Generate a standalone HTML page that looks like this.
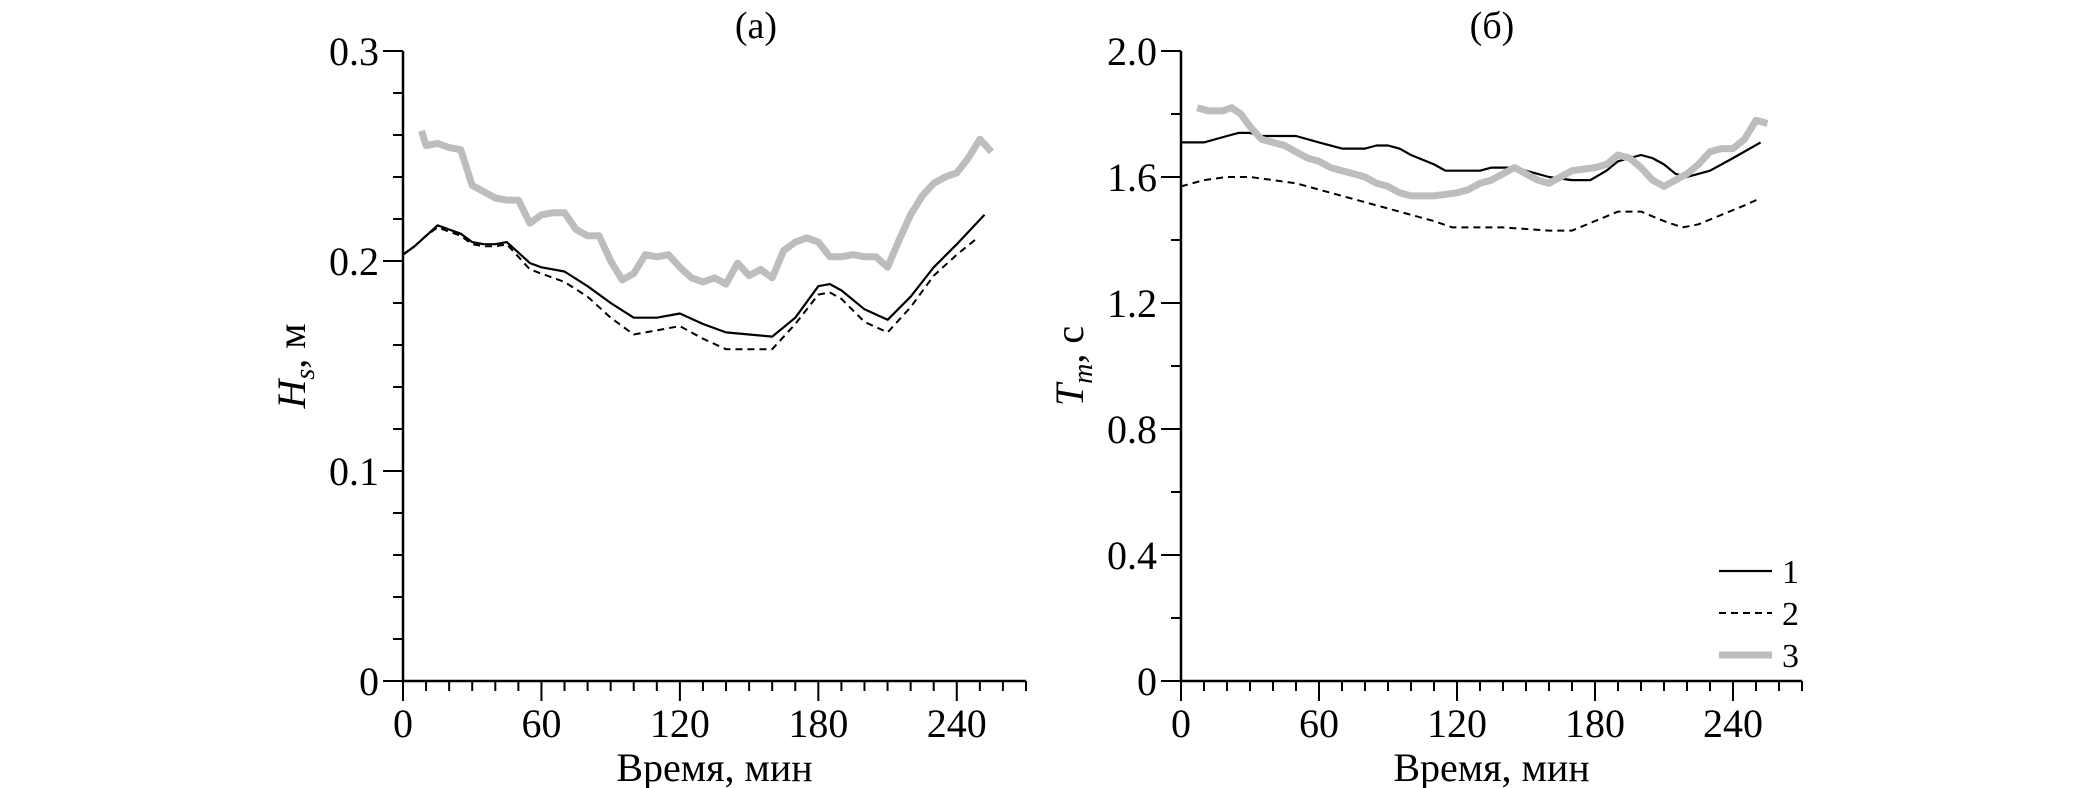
<!DOCTYPE html>
<html><head><meta charset="utf-8"><style>
html,body{margin:0;padding:0;background:#fff;}
svg{display:block;font-family:"Liberation Serif",serif;}
</style></head><body>
<svg id="chart" width="2079" height="788" viewBox="0 0 2079 788" xmlns="http://www.w3.org/2000/svg"></svg>
<script>
const hsT1=[0,5,10,15,20,25,30,35,40,45,50,55,60,70,80,90,100,110,120,130,140,150,160,170,180,185,190,200,210,220,230,240,252];
const hsV1=[0.203,0.207,0.212,0.217,0.215,0.213,0.209,0.208,0.208,0.209,0.204,0.199,0.197,0.195,0.188,0.180,0.173,0.173,0.175,0.170,0.166,0.165,0.164,0.173,0.188,0.189,0.186,0.177,0.172,0.183,0.197,0.208,0.222];
const hsT2=[0,5,10,15,20,25,30,35,40,45,50,55,60,70,80,90,100,110,120,130,140,150,160,170,180,185,190,200,210,220,230,240,249];
const hsV2=[0.203,0.207,0.212,0.216,0.214,0.212,0.208,0.207,0.207,0.208,0.202,0.196,0.194,0.190,0.183,0.173,0.165,0.167,0.169,0.163,0.158,0.158,0.158,0.170,0.184,0.185,0.182,0.171,0.166,0.178,0.193,0.203,0.211];
const hsT3=[8,10,15,20,25,30,35,40,45,50,55,60,65,70,75,80,85,90,95,100,105,110,115,120,125,130,135,140,145,150,155,160,165,170,175,180,185,190,195,200,205,210,215,220,225,230,235,240,245,250,255];
const hsV3=[0.262,0.255,0.256,0.254,0.253,0.236,0.233,0.230,0.229,0.229,0.218,0.222,0.223,0.223,0.215,0.212,0.212,0.200,0.191,0.194,0.203,0.202,0.203,0.197,0.192,0.190,0.192,0.189,0.199,0.193,0.196,0.192,0.205,0.209,0.211,0.209,0.202,0.202,0.203,0.202,0.202,0.197,0.210,0.222,0.231,0.237,0.240,0.242,0.249,0.258,0.252];
const tmT1=[0,10,20,25,30,35,50,60,70,80,85,90,95,100,110,115,130,135,145,150,160,170,178,185,190,200,205,210,215,220,230,240,252];
const tmV1=[1.71,1.71,1.73,1.74,1.74,1.73,1.73,1.71,1.69,1.69,1.70,1.70,1.69,1.67,1.64,1.62,1.62,1.63,1.63,1.62,1.60,1.59,1.59,1.62,1.65,1.67,1.66,1.64,1.61,1.60,1.62,1.66,1.71];
const tmT2=[0,10,20,30,40,50,60,70,80,90,100,110,118,140,160,170,180,190,200,210,218,225,235,245,251];
const tmV2=[1.57,1.59,1.60,1.60,1.59,1.58,1.56,1.54,1.52,1.50,1.48,1.46,1.44,1.44,1.43,1.43,1.46,1.49,1.49,1.46,1.44,1.45,1.48,1.51,1.53];
const tmT3=[7,12,18,22,26,30,35,40,45,50,55,60,65,70,75,80,85,90,95,100,110,120,125,130,135,140,145,150,155,160,165,170,180,185,190,195,200,205,210,215,220,225,230,235,240,245,250,255];
const tmV3=[1.82,1.81,1.81,1.82,1.80,1.76,1.72,1.71,1.70,1.68,1.66,1.65,1.63,1.62,1.61,1.60,1.58,1.57,1.55,1.54,1.54,1.55,1.56,1.58,1.59,1.61,1.63,1.61,1.59,1.58,1.60,1.62,1.63,1.64,1.67,1.66,1.63,1.59,1.57,1.59,1.61,1.64,1.68,1.69,1.69,1.72,1.78,1.77];
const xTickLabels=["0","60","120","180","240"];
const hsTickLabels=["0","0.1","0.2","0.3"];
const tmTickLabels=["0","0.4","0.8","1.2","1.6","2.0"];

const NS="http://www.w3.org/2000/svg";
const svg=document.getElementById('chart');
function mk(tag,attrs,parent){const e=document.createElementNS(NS,tag);for(const k in attrs)e.setAttribute(k,attrs[k]);(parent||svg).appendChild(e);return e;}

function panel(o){
  const g=mk('g',{});
  
  
  const x=t=>o.x0+t*(o.x1-o.x0)/270;
  const y=v=>o.yb+(v/o.ymax)*(o.yt-o.yb);
  const ax=mk('path',{d:`M${o.x0},${o.yt} L${o.x0},${o.yb} L${o.x1},${o.yb}`,stroke:'#000','stroke-width':2.5,fill:'none'},g);
  
  
  const ny=Math.round(o.ymax/o.minor);
  for(let i=0;i<=ny;i++){const v=i*o.minor;const maj=(i%o.majEvery===0);
    mk('line',{x1:o.x0-(maj?20:10),x2:o.x0,y1:y(v),y2:y(v),stroke:'#000','stroke-width':2},g);}
  o.labels.forEach((l,i)=>{const t=mk('text',{x:o.x0-24,y:y(i*o.minor*o.majEvery)+14,'font-size':40,'text-anchor':'end'},g);t.textContent=l;
    });
  for(let t=0;t<=270;t+=10){const maj=t%60===0;
    mk('line',{x1:x(t),x2:x(t),y1:o.yb,y2:o.yb+(maj?20:10),stroke:'#000','stroke-width':2},g);}
  xTickLabels.forEach((l,i)=>{const t=mk('text',{x:x(i*60),y:o.yb+56,'font-size':40,'text-anchor':'middle'},g);t.textContent=l;
    });
  const xt=mk('text',{x:x(135),y:781,'font-size':40,'text-anchor':'middle'},g);xt.textContent='Время, мин';
  
  const tt=mk('text',{x:o.titleX,y:38,'font-size':38,'text-anchor':'middle'},g);tt.textContent=o.title;
  
  const yl=mk('text',{transform:`translate(${o.x0-98},${366}) rotate(-90)`,'font-size':40,'text-anchor':'middle'},g);
  yl.innerHTML=o.ylab;
  
  const styles=[{c:'#000',w:2.2,d:''},{c:'#000',w:2,d:'7 5'},{c:'#bdbdbd',w:7,d:''}];
  o.series.forEach((s,k)=>{const st=styles[k];
    const d=s[0].map((t,i)=>(i?'L':'M')+x(t).toFixed(1)+','+y(s[1][i]).toFixed(1)).join(' ');
    const p=mk('path',{d,stroke:st.c,'stroke-width':st.w,fill:'none','stroke-dasharray':st.d,'stroke-linejoin':'round'},g);
    
    
  });
  return g;
}
panel({name:'panel-a-hs',x0:403,x1:1026,yt:51,yb:681,ymax:0.3,minor:0.02,majEvery:5,labels:hsTickLabels,title:'(a)',titleX:756,
  ylab:'<tspan font-style="italic">H</tspan><tspan font-style="italic" font-size="28" dy="9">s</tspan><tspan dy="-9">, м</tspan>',
  series:[[hsT1,hsV1],[hsT2,hsV2],[hsT3,hsV3]]});
panel({name:'panel-b-tm',x0:1181,x1:1802,yt:51,yb:681,ymax:2.0,minor:0.2,majEvery:2,labels:tmTickLabels,title:'(б)',titleX:1492,
  ylab:'<tspan font-style="italic">T</tspan><tspan font-style="italic" font-size="28" dy="9">m</tspan><tspan dy="-9">, с</tspan>',
  series:[[tmT1,tmV1],[tmT2,tmV2],[tmT3,tmV3]]});

const lg=document.createElementNS(NS,'g');


svg.appendChild(lg);
const items=[['1','#000',2.2,''],['2','#000',2,'7 5'],['3','#bdbdbd',7,'']];
items.forEach((it,i)=>{const yy=571+i*42;
  const l=mk('line',{x1:1719,x2:1772,y1:yy,y2:yy,stroke:it[1],'stroke-width':it[2],'stroke-dasharray':it[3]},lg);
  
  
  const t=mk('text',{x:1782,y:yy+12,'font-size':34},lg);t.textContent=it[0];
  
  
});
</script>
</body></html>
